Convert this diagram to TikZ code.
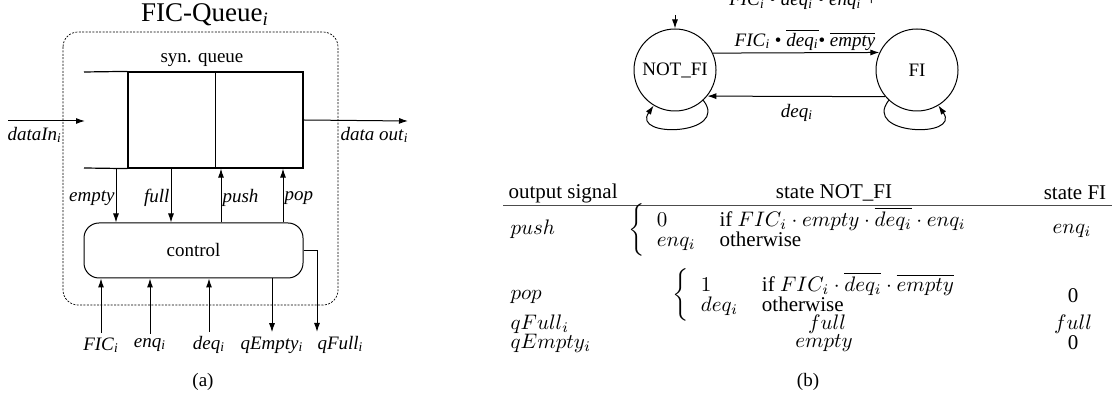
\RequirePackage{fix-cm}
\documentclass[tikz,border=0pt]{standalone}
\usepackage{fontspec}
\setmainfont{Liberation Serif}
\usepackage{amsmath}
\usetikzlibrary{arrows,arrows.meta}
\usetikzlibrary{positioning}
\usetikzlibrary{calc}

\newcommand{\sgl}[1]{\textit{#1}\textsubscript{\textit{i}}}

\begin{document}
\begin{tikzpicture}[->,>={Latex[length=4.5pt,width=3pt]},x=0.5pt,y=-0.5pt,line width=0.5pt]
	\tikzset{lbl/.style = {inner sep=0.5pt, font=\fontsize{9.5}{11}\selectfont}}
	\tikzset{state/.style = {shape=circle, draw, minimum size=41pt, inner sep=0pt, font=\fontsize{9.5}{11}\selectfont}}
	\tikzset{block/.style = {shape=rectangle, draw, rounded corners=7.5pt, minimum width=109.5pt, minimum height=27.5pt, font=\fontsize{9.5}{11}\selectfont}}
	\tikzset{cell/.style = {inner sep=0pt, font=\fontsize{10.5}{12.5}\selectfont}}
	
	\useasboundingbox (0,0) rectangle (1112,399);
	
	% (a) queue with control
	\node[lbl, font=\fontsize{13.5}{16}\selectfont] (title) at (205,15) {FIC-Queue\textsubscript{\textit{i}}};
	\draw[-, dash pattern=on 1pt off 0.7pt, line width=0.35pt, rounded corners=7.5pt] (63,32) rectangle (338,305);
	\node[lbl] (synq) at (202,60) {syn. queue};
	\node[-, draw, line width=0.6pt, minimum width=87.5pt, minimum height=48pt, inner sep=0pt] (queue) at (215.5,120) {};
	\draw[-, line width=0.6pt] (queue.north) -- (queue.south);
	\draw[-, line width=0.6pt] (84,72) -- (queue.north west);
	\draw[-, line width=0.6pt] (84,168) -- (queue.south west);
	\node[block] (ctrl) at (193.5,250.5) {control};
	
	\coordinate (din) at (8,121);
	\coordinate (qin) at (85,121);
	\coordinate (dout) at (408,121);
	\draw (din) -- (qin);
	\draw (queue.east) -- (dout);
	\node[lbl, anchor=west] (dinl) at (6,135) {\sgl{dataIn}};
	\node[lbl, anchor=east] (doutl) at (410,135) {\sgl{data out}};
	
	% signals between queue and control
	\node[lbl, anchor=east] (empty) at (116,198) {\textit{empty}};
	\node[lbl, anchor=east] (full) at (171,198) {\textit{full}};
	\node[lbl, anchor=west] (push) at (221,198) {\textit{push}};
	\node[lbl, anchor=west] (pop) at (283,198) {\textit{pop}};
	\draw (empty.east |- queue.south) -- (empty.east |- ctrl.north);
	\draw (full.east |- queue.south) -- (full.east |- ctrl.north);
	\draw (push.west |- ctrl.north) -- (push.west |- queue.south);
	\draw (pop.west |- ctrl.north) -- (pop.west |- queue.south);
	
	% ports of the control
	\node[lbl] (fic) at (101,345) {\sgl{FIC}};
	\node[lbl] (enq) at (150,345) {\sgl{enq}};
	\node[lbl] (deq) at (209,345) {\sgl{deq}};
	\node[lbl] (qempty) at (272,345) {\sgl{qEmpty}};
	\node[lbl, anchor=west] (qfull) at (316,345) {\sgl{qFull}};
	\coordinate (qf) at (317,332);
	\draw (fic.north) ++(0,-3) -- (fic.north |- ctrl.south);
	\draw (enq.north) ++(0,-3) -- (enq.north |- ctrl.south);
	\draw (deq.north) ++(0,-3) -- (deq.north |- ctrl.south);
	\draw (qempty.north |- ctrl.south) -- ($(qempty.north)+(0,-3)$);
	\draw (ctrl.east) -| (qf);
	\node[lbl] (capa) at (203,382) {(a)};
	
	% (b) automaton
	\node[state] (nf) at (675,70) {NOT\_FI};
	\node[state] (fi) at (917,70) {FI};
	\coordinate (init) at (675,15);
	\draw (init) -- (nf.north);
	\draw (nf.24.5) -- (fi.155.5);
	\draw (fi.-140.6) -- (nf.-39.4);
	\draw (nf.-47) .. controls +(27,35) and +(-23,33) .. (nf.-121);
	\draw (fi.-133) .. controls +(-27,35) and +(23,33) .. (fi.-59);
	\node[lbl, anchor=base] (t1a) at (803,6) {\sgl{FIC} \textbullet{} \sgl{deq} \textbullet{} \sgl{enq} +};
	\node[lbl] (t1b) at (805,40) {\sgl{FIC} \textbullet{} $\overline{\mbox{\sgl{deq}}}$\textbullet{} $\overline{\mbox{\textit{empty}}}$};
	\node[lbl] (t2) at (797,113) {\sgl{deq}};
	
	% (b) output table
	\node[cell, anchor=west] (hsig) at (508,193) {output signal};
	\node[cell] (hnf) at (834,193) {state NOT\_FI};
	\node[cell] (hfi) at (1075,193) {state FI};
	\draw[-, line width=0.45pt, black!70] (503,205) -- (1112,205);
	
	\node[cell, anchor=west] (rpush) at (510,229) {$push$};
	\node[cell, anchor=west] (rpushnf) at (628,230) {$\left\{\def\arraystretch{0.75}\begin{array}{@{\hspace{6pt}}l@{\hspace{12pt}}l}
		0 & \text{if } FIC_i\cdot empty\cdot\overline{deq_i}\cdot enq_i\\
		enq_i & \text{otherwise}\end{array}\right.$};
	\node[cell] (rpushfi) at (1072,231) {$enq_i$};
	
	\node[cell, anchor=west] (rpop) at (510,297) {$pop$};
	\node[cell, anchor=west] (rpopnf) at (672,295) {$\left\{\def\arraystretch{0.75}\begin{array}{@{\hspace{6pt}}l@{\hspace{12pt}}l}
		1 & \text{if } FIC_i\cdot\overline{deq_i}\cdot\overline{empty}\\
		deq_i & \text{otherwise}\end{array}\right.$};
	\node[cell] (rpopfi) at (1073,296) {0};
	
	\node[cell, anchor=west] (rqfull) at (510,324) {$qFull_i$};
	\node[cell] (rqfullnf) at (827,324) {$full$};
	\node[cell] (rqfullfi) at (1073,324) {$full$};
	\node[cell, anchor=west] (rqempty) at (510,343) {$qEmpty_i$};
	\node[cell] (rqemptynf) at (824,343) {$empty$};
	\node[cell] (rqemptyfi) at (1073,343) {0};
	\node[lbl] (capb) at (808,382) {(b)};
\end{tikzpicture}
\end{document}
